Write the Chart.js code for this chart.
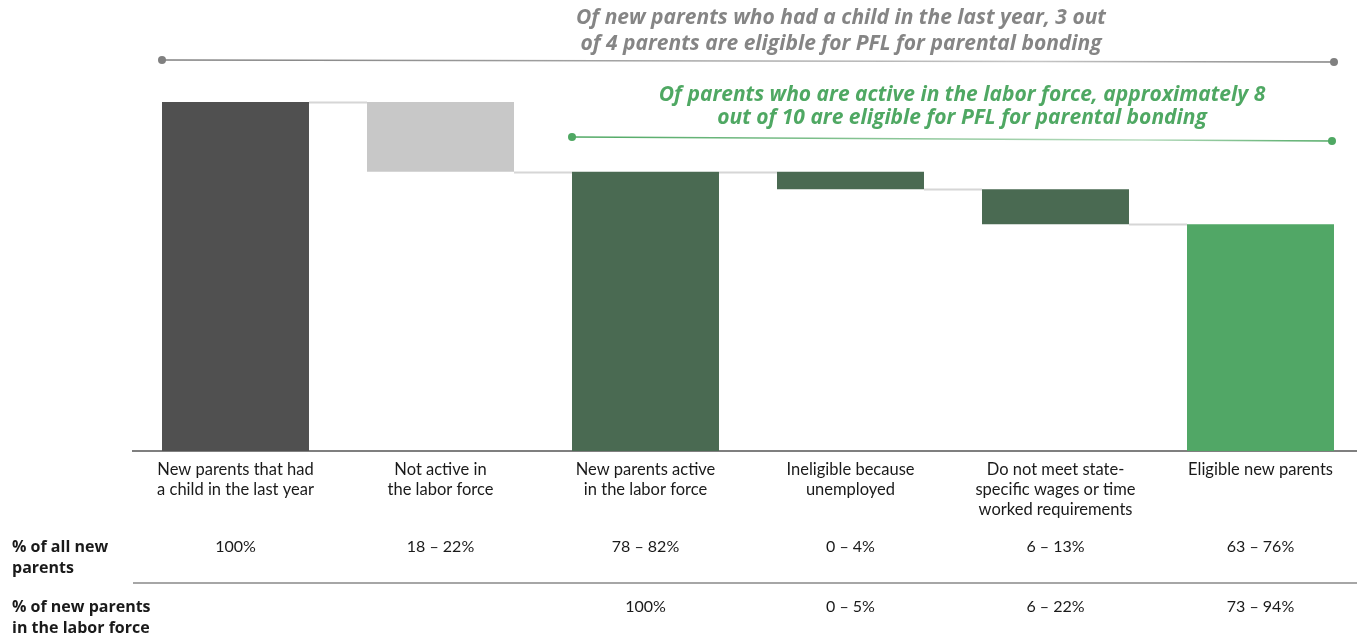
<!DOCTYPE html>
<html>
<head>
<meta charset="utf-8">
<script src="https://cdn.jsdelivr.net/npm/chart.js@4"></script>
<style>
html,body{margin:0;padding:0;background:#fff;overflow:hidden;}
canvas{display:block;}
</style>
</head>
<body>
<canvas id="c" width="1363" height="637"></canvas>
<script>
// ---- data ----
const categories = [
  ["New parents that had", "a child in the last year"],
  ["Not active in", "the labor force"],
  ["New parents active", "in the labor force"],
  ["Ineligible because", "unemployed"],
  ["Do not meet state-", "specific wages or time", "worked requirements"],
  ["Eligible new parents"]
];
const barStart = [0, 80, 0, 75, 65, 0];
const barEnd   = [100, 100, 80, 80, 75, 65];
const barColors = ["#505050", "#c8c8c8", "#4a6a52", "#4a6a52", "#4a6a52", "#51a766"];
const rowLabels = [["% of all new", "parents"], ["% of new parents", "in the labor force"]];
const rowAllParents = ["100%", "18 \u2013 22%", "78 \u2013 82%", "0 \u2013 4%", "6 \u2013 13%", "63 \u2013 76%"];
const rowLaborForce = ["", "", "100%", "0 \u2013 5%", "6 \u2013 22%", "73 \u2013 94%"];
const greyTitle = ["Of new parents who had a child in the last year, 3 out", "of 4 parents are eligible for PFL for parental bonding"];
const greenTitle = ["Of parents who are active in the labor force, approximately 8", "out of 10 are eligible for PFL for parental bonding"];

const FONT = "Lato, 'Open Sans', sans-serif";

const overlay = {
  id: 'overlay',
  afterDatasetsDraw(chart) {
    const ctx = chart.ctx;
    const xs = chart.scales.x, ys = chart.scales.y;
    const bars = chart.getDatasetMeta(0).data;
    const ca = chart.chartArea;
    ctx.save();
    // connectors
    ctx.strokeStyle = '#d6d6d6';
    ctx.lineWidth = 2;
    for (let i = 0; i < bars.length - 1; i++) {
      const level = barStart[i] === 0 ? barEnd[i] : barStart[i];
      const y = Math.round(ys.getPixelForValue(level)) + 0.5;
      ctx.beginPath();
      ctx.moveTo(bars[i].x + bars[i].width / 2, y);
      ctx.lineTo(bars[i + 1].x - bars[i + 1].width / 2, y);
      ctx.stroke();
    }
    // annotation lines
    function bracket(x1, y1, x2, y2, c1, c2) {
      const g = ctx.createLinearGradient(x1, 0, x2, 0);
      g.addColorStop(0, c1); g.addColorStop(0.75, c2); g.addColorStop(1, c1);
      ctx.strokeStyle = g; ctx.lineWidth = 1.5;
      ctx.beginPath(); ctx.moveTo(x1, y1); ctx.lineTo(x2, y2); ctx.stroke();
      ctx.fillStyle = c1;
      ctx.beginPath(); ctx.arc(x1, y1, 4, 0, Math.PI * 2); ctx.fill();
      ctx.beginPath(); ctx.arc(x2, y2, 4, 0, Math.PI * 2); ctx.fill();
    }
    const l0 = bars[0].x - bars[0].width / 2, r5 = bars[5].x + bars[5].width / 2;
    const l2 = bars[2].x - bars[2].width / 2;
    bracket(l0, ca.top - 42, r5, ca.top - 40, '#808080', '#c4c4c4');
    bracket(l2, ca.top + 35, r5 - 2, ca.top + 39, '#4fa863', '#b8dcbf');
    // titles
    ctx.font = "italic bold 21px 'Open Sans', sans-serif";
    ctx.textAlign = 'center'; ctx.textBaseline = 'middle';
    ctx.fillStyle = '#858585';
    ctx.fillText(greyTitle[0], 841, 18);
    ctx.fillText(greyTitle[1], 841, 44);
    ctx.fillStyle = '#4fa863';
    ctx.fillText(greenTitle[0], 962, 95);
    ctx.fillText(greenTitle[1], 962, 118);
    // table rows
    ctx.font = "16px " + FONT;
    ctx.fillStyle = '#1a1a1a';
    for (let i = 0; i < categories.length; i++) {
      const x = xs.getPixelForValue(i);
      ctx.fillText(rowAllParents[i], x, 547);
      if (rowLaborForce[i]) ctx.fillText(rowLaborForce[i], x, 607);
    }
    ctx.font = "bold 16px 'Open Sans', sans-serif";
    ctx.textAlign = 'left';
    ctx.fillText(rowLabels[0][0], 12, 547);
    ctx.fillText(rowLabels[0][1], 12, 568);
    ctx.fillText(rowLabels[1][0], 12, 607);
    ctx.fillText(rowLabels[1][1], 12, 628);
    // separator
    ctx.strokeStyle = '#a6a6a6'; ctx.lineWidth = 2;
    ctx.beginPath(); ctx.moveTo(ca.left, 583); ctx.lineTo(chart.width, 583); ctx.stroke();
    ctx.restore();
  }
};

new Chart(document.getElementById('c'), {
  type: 'bar',
  data: {
    labels: categories,
    datasets: [{
      data: barStart.map((s, i) => [s, barEnd[i]]),
      backgroundColor: barColors,
      borderWidth: 0,
      barPercentage: 0.717,
      categoryPercentage: 1
    }]
  },
  options: {
    responsive: false,
    animation: false,
    devicePixelRatio: 1,
    layout: { padding: { left: 133, right: 0, top: 102, bottom: 0 } },
    plugins: { legend: { display: false }, tooltip: { enabled: false } },
    scales: {
      x: {
        grid: { display: false, drawTicks: false },
        border: { display: true, color: '#7f7f7f', width: 2 },
        ticks: { color: '#1a1a1a', font: { family: FONT, size: 16.5, lineHeight: 1.24 }, padding: 8, maxRotation: 0, autoSkip: false },
        afterFit(s) { s.height = 186; }
      },
      y: {
        display: false,
        min: 0, max: 100
      }
    }
  },
  plugins: [overlay]
});
</script>
</body>
</html>
